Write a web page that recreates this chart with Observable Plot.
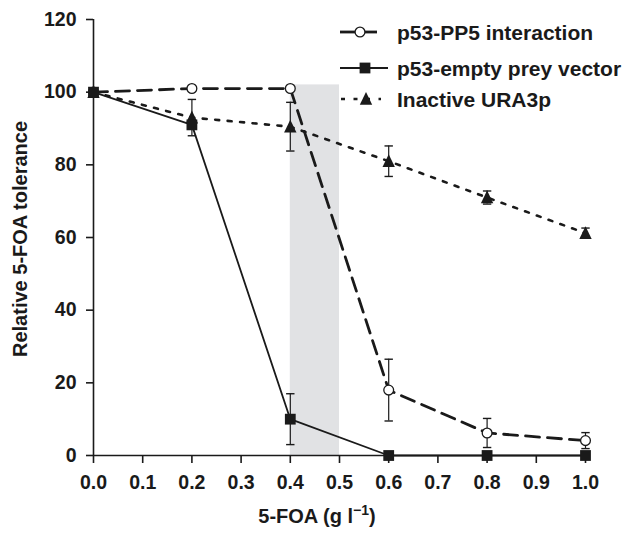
<!DOCTYPE html>
<html>
<head>
<meta charset="utf-8">
<script src="https://cdn.jsdelivr.net/npm/d3@7"></script>
<script src="https://cdn.jsdelivr.net/npm/@observablehq/plot@0.6"></script>
<style>
  html, body { margin: 0; padding: 0; background: #fff; }
  #chart { width: 626px; height: 533px; position: relative; }
</style>
</head>
<body>
<div id="chart"></div>
<script>
// ---- data ----
const doses = [0, 0.2, 0.4, 0.6, 0.8, 1.0];
const seriesNames = ["p53-PP5 interaction", "p53-empty prey vector", "Inactive URA3p"];
const pp5 = [100, 101, 101, 18, 6.2, 4.1];
const pp5Err = [null, null, null, 8.5, 4, 2.2];
const emptyPrey = [100, 91, 10, 0, 0, 0];
const emptyPreyErr = [null, null, 7, null, null, null];
const ura3 = [100, 93, 90.5, 81, 71, 61.2];
const ura3Err = [null, 5, 6.7, 4.2, 1.8, 1.4];
const shadedBand = [{x1: 0.4, x2: 0.5, y1: 0, y2: 102}];
const xTicks = [0, 0.1, 0.2, 0.3, 0.4, 0.5, 0.6, 0.7, 0.8, 0.9, 1.0];
const yTicks = [0, 20, 40, 60, 80, 100, 120];
const yLabel = "Relative 5-FOA tolerance";
const xLabelMain = "5-FOA (g l";
const xLabelSup = "\u22121";

// ---- derived tables ----
const toRows = (vals, errs, series) => doses.map((d, i) => ({dose: d, value: vals[i], err: errs[i], series}));
const rowsPP5 = toRows(pp5, pp5Err, seriesNames[0]);
const rowsEmpty = toRows(emptyPrey, emptyPreyErr, seriesNames[1]);
const rowsUra = toRows(ura3, ura3Err, seriesNames[2]);
const errRows = [...rowsPP5, ...rowsEmpty, ...rowsUra].filter(d => d.err != null);

const capSymbol = {draw(ctx) { ctx.moveTo(-4.2, 0); ctx.lineTo(4.2, 0); }};
const triSymbol = {draw(ctx) { ctx.moveTo(0, -7); ctx.lineTo(6.2, 5.8); ctx.lineTo(-6.2, 5.8); ctx.closePath(); }};
const sqSymbol = {draw(ctx) { ctx.rect(-5.4, -5.4, 10.8, 10.8); }};

const ink = "#1a1a1a";
const fontFam = "'Liberation Sans', Arial, Helvetica, sans-serif";

const plot = Plot.plot({
  width: 626,
  height: 533,
  marginLeft: 93,
  marginRight: 41,
  marginTop: 19,
  marginBottom: 78,
  x: {domain: [0, 1]},
  y: {domain: [0, 120]},
  style: {fontFamily: fontFam, fontSize: "19.5px", fontWeight: "bold", color: ink, background: "#fff"},
  marks: [
    Plot.rect(shadedBand, {x1: "x1", x2: "x2", y1: "y1", y2: "y2", fill: "#e1e2e4"}),
    Plot.axisX({ticks: xTicks, tickFormat: d3.format(".1f"), tickSize: 8, tickPadding: 12, label: null, fontSize: 19.5, fontWeight: "bold", strokeWidth: 1.6}),
    Plot.axisY({ticks: yTicks, tickSize: 7, tickPadding: 10, label: null, fontSize: 19.5, fontWeight: "bold", strokeWidth: 1.6}),
    Plot.ruleX([0], {y1: 0, y2: 120, stroke: ink, strokeWidth: 1.6}),
    Plot.ruleY([0], {stroke: ink, strokeWidth: 1.6}),
    // lines
    Plot.line(rowsUra, {x: "dose", y: "value", stroke: ink, strokeWidth: 2.6, strokeDasharray: "4,8.5"}),
    Plot.line(rowsEmpty, {x: "dose", y: "value", stroke: ink, strokeWidth: 1.8}),
    Plot.line(rowsPP5, {x: "dose", y: "value", stroke: ink, strokeWidth: 2.8, strokeDasharray: "14,8"}),
    // error bars
    Plot.ruleX(errRows, {x: "dose", y1: d => d.value - d.err, y2: d => d.value + d.err, stroke: ink, strokeWidth: 1.2}),
    Plot.dot(errRows, {x: "dose", y: d => d.value + d.err, symbol: capSymbol, stroke: ink, strokeWidth: 1.4, r: 3}),
    Plot.dot(errRows, {x: "dose", y: d => d.value - d.err, symbol: capSymbol, stroke: ink, strokeWidth: 1.4, r: 3}),
    // markers
    Plot.dot(rowsPP5, {x: "dose", y: "value", r: 4.9, fill: "#fff", stroke: ink, strokeWidth: 1.3}),
    Plot.dot(rowsUra, {x: "dose", y: "value", symbol: triSymbol, fill: ink, r: 5}),
    Plot.dot(rowsEmpty, {x: "dose", y: "value", symbol: sqSymbol, fill: ink, r: 5})
  ]
});

document.getElementById("chart").appendChild(plot);

// ---- axis titles & legend (overlay, in the same SVG) ----
const svg = d3.select(plot);
svg.append("text")
  .attr("transform", "translate(27,239) rotate(-90)")
  .attr("text-anchor", "middle")
  .attr("font-family", fontFam).attr("font-size", 20).attr("font-weight", "bold").attr("fill", ink)
  .text(yLabel);

const xl = svg.append("text")
  .attr("x", 317).attr("y", 523)
  .attr("text-anchor", "middle")
  .attr("font-family", fontFam).attr("font-size", 20).attr("font-weight", "bold").attr("fill", ink);
xl.append("tspan").text(xLabelMain);
xl.append("tspan").attr("dy", -8).attr("font-size", 14).text(xLabelSup);
xl.append("tspan").attr("dy", 8).text(")");

const legendYs = [32, 68, 99];
const lg = svg.append("g").attr("fill", ink).attr("stroke", ink);
// entry 1: dashed with open circle
lg.append("line").attr("x1", 340).attr("x2", 355).attr("y1", legendYs[0]).attr("y2", legendYs[0]).attr("stroke-width", 2.8);
lg.append("line").attr("x1", 365).attr("x2", 377).attr("y1", legendYs[0]).attr("y2", legendYs[0]).attr("stroke-width", 2.8);
lg.append("circle").attr("cx", 360).attr("cy", legendYs[0]).attr("r", 4.9).attr("fill", "#fff").attr("stroke-width", 1.3);
// entry 2: solid with square
lg.append("line").attr("x1", 340).attr("x2", 388).attr("y1", legendYs[1]).attr("y2", legendYs[1]).attr("stroke-width", 1.8);
lg.append("rect").attr("x", 365 - 5.4).attr("y", legendYs[1] - 5.4).attr("width", 10.8).attr("height", 10.8).attr("stroke", "none");
// entry 3: dotted with triangle
lg.append("line").attr("x1", 341).attr("x2", 381).attr("y1", legendYs[2]).attr("y2", legendYs[2]).attr("stroke-width", 2.6).attr("stroke-dasharray", "4,8.5");
lg.append("path").attr("d", d3.symbol(triSymbol)()).attr("transform", `translate(366,${legendYs[2]})`).attr("stroke", "none");

seriesNames.forEach((name, i) => {
  svg.append("text")
    .attr("x", 397).attr("y", legendYs[i] + 7.5)
    .attr("text-anchor", "start")
    .attr("font-family", fontFam).attr("font-size", 21).attr("font-weight", "bold").attr("fill", ink)
    .text(name);
});
</script>
</body>
</html>
